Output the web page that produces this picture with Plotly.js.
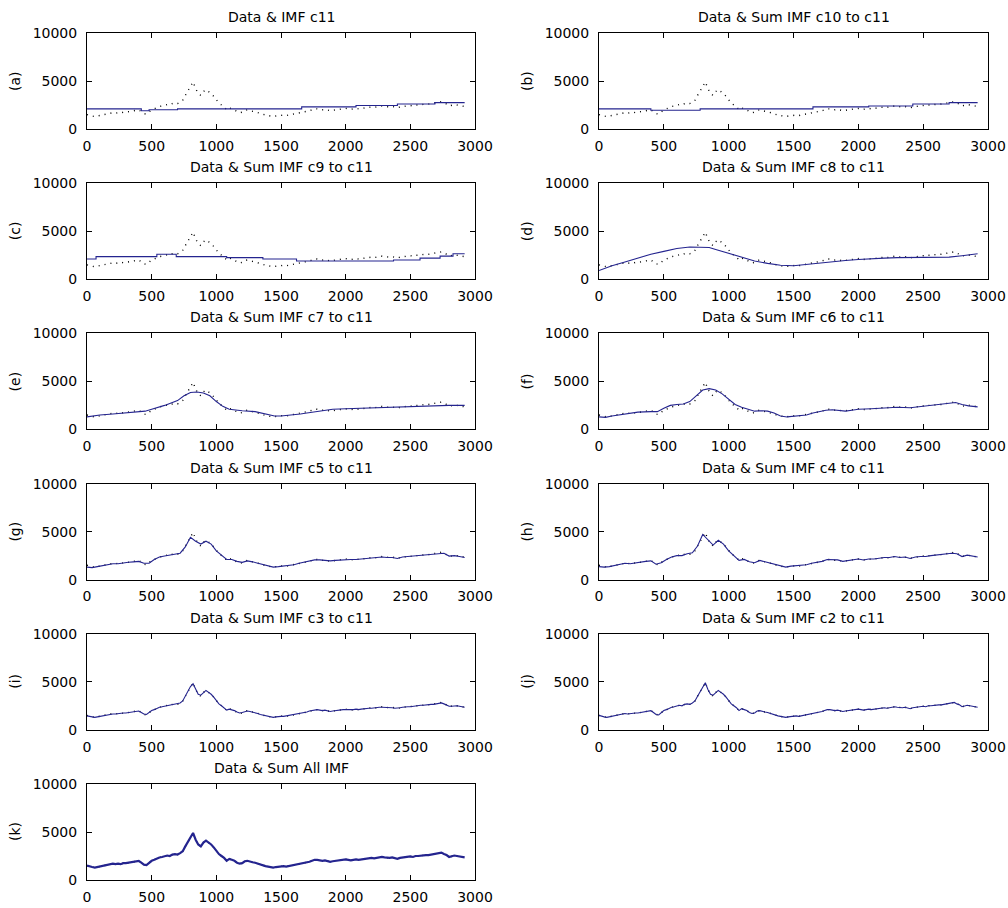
<!DOCTYPE html>
<html>
<head>
<meta charset="utf-8">
<script src="https://cdn.plot.ly/plotly-3.0.1.min.js"></script>
<style>html,body{margin:0;padding:0;background:#fff;}#chart{width:1008px;height:908px;}</style>
</head>
<body>
<div id="chart"></div>
<script>
// ---------- data (sample index on x, value on y) ----------
const panelLabels = ["(a)","(b)","(c)","(d)","(e)","(f)","(g)","(h)","(i)","(j)","(k)"];
const panelTitles = [
  "Data & IMF c11",
  "Data & Sum IMF c10 to c11",
  "Data & Sum IMF c9 to c11",
  "Data & Sum IMF c8 to c11",
  "Data & Sum IMF c7 to c11",
  "Data & Sum IMF c6 to c11",
  "Data & Sum IMF c5 to c11",
  "Data & Sum IMF c4 to c11",
  "Data & Sum IMF c3 to c11",
  "Data & Sum IMF c2 to c11",
  "Data & Sum All IMF"
];
const xTickVals = [0,500,1000,1500,2000,2500,3000];
const yTickVals = [0,5000,10000];

// original data, sampled every 20 points
const dataStep = 20;
const dataValues = [
  1500,1400,1350,1300,1350,1400,1450,1550,1600,1600,
  1700,1650,1700,1650,1750,1750,1800,1850,1900,1950,
  2000,1800,1600,1550,1800,2000,2100,2250,2350,2400,
  2500,2550,2500,2650,2700,2650,2800,3000,3500,4000,
  4500,4900,4200,3700,3500,3900,4100,3900,3700,3400,
  3000,2700,2500,2300,2000,2200,2100,2000,1800,1700,
  1750,1950,2000,1900,1850,1800,1700,1600,1550,1450,
  1400,1350,1300,1350,1400,1400,1450,1400,1450,1500,
  1550,1600,1700,1750,1800,1850,1900,2000,2100,2100,
  2050,2000,2050,2000,1900,1950,2000,2050,2050,2100,
  2150,2100,2050,2100,2150,2100,2150,2200,2250,2250,
  2300,2250,2300,2350,2400,2350,2300,2300,2350,2250,
  2200,2300,2350,2400,2400,2450,2400,2500,2500,2550,
  2550,2600,2600,2650,2700,2700,2750,2850,2700,2600,
  2400,2450,2550,2500,2450,2400,2350
];

// (a) IMF c11 (step levels)
const aX = [0,420,480,700,1660,2080,2400,2690,2920];
const aY = [2100,1900,2000,2100,2300,2450,2600,2750,2750];
// (b) c10..c11
const bX = [0,400,480,780,1650,2080,2420,2700,2920];
const bY = [2100,1950,1950,2100,2300,2400,2600,2750,2750];
// (c) c9..c11
const cX = [0,70,540,690,1080,1360,1620,2370,2575,2730,2830,2920];
const cY = [2100,2350,2600,2350,2250,2100,1900,2000,2200,2400,2650,2650];
// (d) c8..c11
const dX = [0,100,200,300,400,500,600,700,800,850,900,1000,1100,1200,1300,1400,1500,1600,1700,1800,1900,2000,2100,2200,2300,2400,2500,2600,2700,2800,2920];
const dY = [900,1400,1800,2200,2600,2900,3200,3350,3350,3300,3100,2700,2300,1900,1650,1450,1400,1550,1700,1850,1950,2050,2150,2200,2250,2250,2250,2250,2300,2450,2650];
// (e) c7..c11
const eX = [0,100,200,300,400,450,500,600,700,750,800,850,900,950,1000,1050,1100,1150,1200,1300,1400,1450,1500,1600,1650,1700,1800,1900,2000,2100,2200,2300,2400,2500,2600,2700,2800,2920];
const eY = [1300,1500,1600,1700,1800,1900,2100,2500,3000,3500,3850,3900,3800,3500,2900,2400,2100,2000,1950,1850,1600,1400,1400,1500,1600,1700,1900,2100,2150,2200,2250,2300,2350,2400,2400,2450,2500,2500];
// (f) c6..c11
const fX = [0,50,100,200,250,300,400,450,500,550,600,650,700,750,800,850,900,950,1000,1050,1100,1150,1200,1250,1300,1350,1400,1450,1500,1550,1600,1650,1700,1750,1800,1850,1900,1950,2000,2100,2200,2300,2400,2500,2600,2700,2750,2800,2850,2920];
const fY = [1300,1250,1400,1600,1750,1800,1850,1850,2200,2500,2600,2650,2900,3500,4100,4250,4100,3700,3100,2600,2300,2100,1900,1950,1900,1700,1400,1300,1350,1400,1500,1700,1850,2000,2050,2000,1900,2000,2100,2150,2250,2300,2250,2400,2500,2700,2800,2600,2450,2350];
// (g) c5..c11, every 40 points
const gStep = 40;
const gY = [
  1300,1250,1350,1450,1600,1650,1650,1750,1800,1850,
  1900,1700,1700,2100,2350,2450,2550,2650,2750,3400,
  4400,4000,3700,4000,3700,3000,2500,2100,2100,1900,
  1800,1950,1850,1700,1550,1400,1300,1350,1400,1450,
  1550,1700,1800,1900,2050,2050,2000,1950,2000,2050,
  2100,2100,2100,2150,2200,2250,2300,2350,2300,2300,
  2200,2350,2400,2450,2500,2550,2600,2650,2700,2750,
  2450,2500,2400,2300
];
// (h) c4..c11, every 40 points
const hStep = 40;
const hY = [
  1350,1300,1350,1450,1600,1700,1650,1750,1800,1900,
  1950,1600,1750,2100,2350,2500,2500,2700,2800,3500,
  4700,4100,3600,4100,3700,3000,2500,2000,2100,1850,
  1750,2000,1850,1700,1550,1400,1300,1400,1450,1450,
  1550,1700,1800,1900,2100,2050,2050,1900,2000,2050,
  2150,2050,2150,2150,2250,2300,2300,2400,2300,2350,
  2200,2350,2400,2400,2500,2550,2600,2700,2750,2700,
  2400,2550,2450,2350
];
// (i) c3..c11, every 20 points
const iStep = 20;
const iY = [
  1450,1400,1350,1300,1350,1400,1450,1500,1600,1600,
  1650,1650,1700,1700,1750,1750,1800,1850,1900,1950,
  1950,1800,1650,1600,1800,2000,2100,2250,2350,2400,
  2450,2550,2550,2650,2650,2700,2800,3000,3500,4000,
  4500,4800,4200,3700,3600,3900,4100,3900,3700,3400,
  3000,2700,2500,2300,2050,2150,2100,2000,1850,1750,
  1800,1900,1950,1900,1850,1800,1700,1600,1550,1450,
  1400,1350,1300,1350,1400,1400,1400,1450,1450,1500,
  1550,1600,1700,1750,1800,1850,1950,2000,2050,2100,
  2050,2000,2050,1950,1900,1950,2000,2050,2050,2100,
  2100,2100,2050,2100,2150,2100,2150,2200,2250,2250,
  2250,2300,2300,2350,2350,2350,2300,2300,2300,2250,
  2250,2300,2350,2400,2400,2400,2450,2450,2500,2550,
  2550,2600,2600,2650,2650,2700,2750,2800,2700,2550,
  2450,2450,2500,2500,2450,2400,2350
];
// (j) c2..c11, every 20 points
const jStep = 20;
const jY = [
  1500,1400,1350,1300,1350,1400,1450,1550,1600,1600,
  1700,1650,1700,1700,1750,1750,1800,1850,1900,1950,
  2000,1800,1600,1550,1800,2000,2100,2250,2350,2400,
  2500,2550,2500,2650,2700,2650,2800,3000,3500,4000,
  4500,4900,4200,3700,3600,3900,4100,3900,3700,3400,
  3000,2700,2500,2300,2000,2200,2100,2000,1800,1700,
  1750,1950,2000,1900,1850,1800,1700,1600,1550,1450,
  1400,1350,1300,1350,1400,1400,1450,1400,1450,1500,
  1550,1600,1700,1750,1800,1850,1900,2000,2100,2100,
  2050,2000,2050,2000,1900,1950,2000,2050,2050,2100,
  2150,2100,2050,2100,2150,2100,2150,2200,2250,2250,
  2300,2250,2300,2350,2400,2350,2300,2300,2350,2250,
  2200,2300,2350,2400,2400,2450,2400,2500,2500,2550,
  2550,2600,2600,2650,2700,2700,2750,2850,2700,2600,
  2400,2450,2550,2500,2450,2400,2350
];

// ---------- build ----------
const idx = (arr, step) => arr.map((_, i) => i * step);
const dataX = idx(dataValues, dataStep);

const recon = [
  {x: aX, y: aY, shape: "hv"},
  {x: bX, y: bY, shape: "hv"},
  {x: cX, y: cY, shape: "hv"},
  {x: dX, y: dY, shape: "linear"},
  {x: eX, y: eY, shape: "linear"},
  {x: fX, y: fY, shape: "linear"},
  {x: idx(gY, gStep), y: gY, shape: "linear"},
  {x: idx(hY, hStep), y: hY, shape: "linear"},
  {x: idx(iY, iStep), y: iY, shape: "linear"},
  {x: idx(jY, jStep), y: jY, shape: "linear"},
  {x: dataX, y: dataValues, shape: "linear", width: 2.2}
];

const W = 1008, H = 908;
const colLeft = [[87, 475], [599, 988]];
const rowTop0 = 33, rowPitch = 150.2, rowH = 96;
const FONT = "DejaVu Sans";
const blue = "#24248f";

const traces = [];
const layout = {
  width: W, height: H,
  margin: {l: 0, r: 0, t: 0, b: 0},
  paper_bgcolor: "#ffffff",
  plot_bgcolor: "#ffffff",
  showlegend: false,
  font: {family: FONT, size: 14, color: "#000"},
  annotations: []
};

panelTitles.forEach((title, p) => {
  const row = Math.floor(p / 2), col = p % 2;
  const n = p + 1;
  const xa = "x" + (n === 1 ? "" : n), ya = "y" + (n === 1 ? "" : n);
  const top = rowTop0 + rowPitch * row;
  const xd = [colLeft[col][0] / W, colLeft[col][1] / W];
  const yd = [1 - (top + rowH) / H, 1 - top / H];

  traces.push({
    type: "scatter", mode: "lines", x: dataX, y: dataValues,
    xaxis: xa, yaxis: ya, hoverinfo: "skip",
    line: {color: "#000000", width: 1.4, dash: "1px,5px"}
  });
  const r = recon[p];
  traces.push({
    type: "scatter", mode: "lines", x: r.x, y: r.y,
    xaxis: xa, yaxis: ya,
    line: {color: blue, width: r.width || 1.1, shape: r.shape}
  });

  const common = {
    showgrid: false, zeroline: false, showline: true, linecolor: "#000", linewidth: 1,
    mirror: "ticks", ticks: "inside", ticklen: 5, tickwidth: 1, tickcolor: "#000",
    tickfont: {family: FONT, size: 14, color: "#000"}, fixedrange: true, automargin: false
  };
  layout["xaxis" + (n === 1 ? "" : n)] = Object.assign({}, common, {
    domain: xd, range: [0, 3000], tickmode: "array", tickvals: xTickVals,
    ticktext: xTickVals.map(String), anchor: ya, ticklabelstandoff: 4
  });
  layout["yaxis" + (n === 1 ? "" : n)] = Object.assign({}, common, {
    domain: yd, range: [0, 10000], tickmode: "array", tickvals: yTickVals,
    ticktext: yTickVals.map(String), anchor: xa, ticklabelstandoff: 6
  });

  layout.annotations.push({
    xref: "paper", yref: "paper", x: (xd[0] + xd[1]) / 2, y: yd[1],
    xanchor: "center", yanchor: "bottom", yshift: 6, showarrow: false,
    text: title, font: {family: FONT, size: 14, color: "#000"}
  });
  layout.annotations.push({
    xref: "paper", yref: "paper", x: (colLeft[col][0] - 72) / W, y: (yd[0] + yd[1]) / 2,
    xanchor: "center", yanchor: "middle", textangle: -90, showarrow: false,
    text: panelLabels[p], font: {family: FONT, size: 14, color: "#000"}
  });
});

Plotly.newPlot("chart", traces, layout, {staticPlot: true, displayModeBar: false});
</script>
</body>
</html>
